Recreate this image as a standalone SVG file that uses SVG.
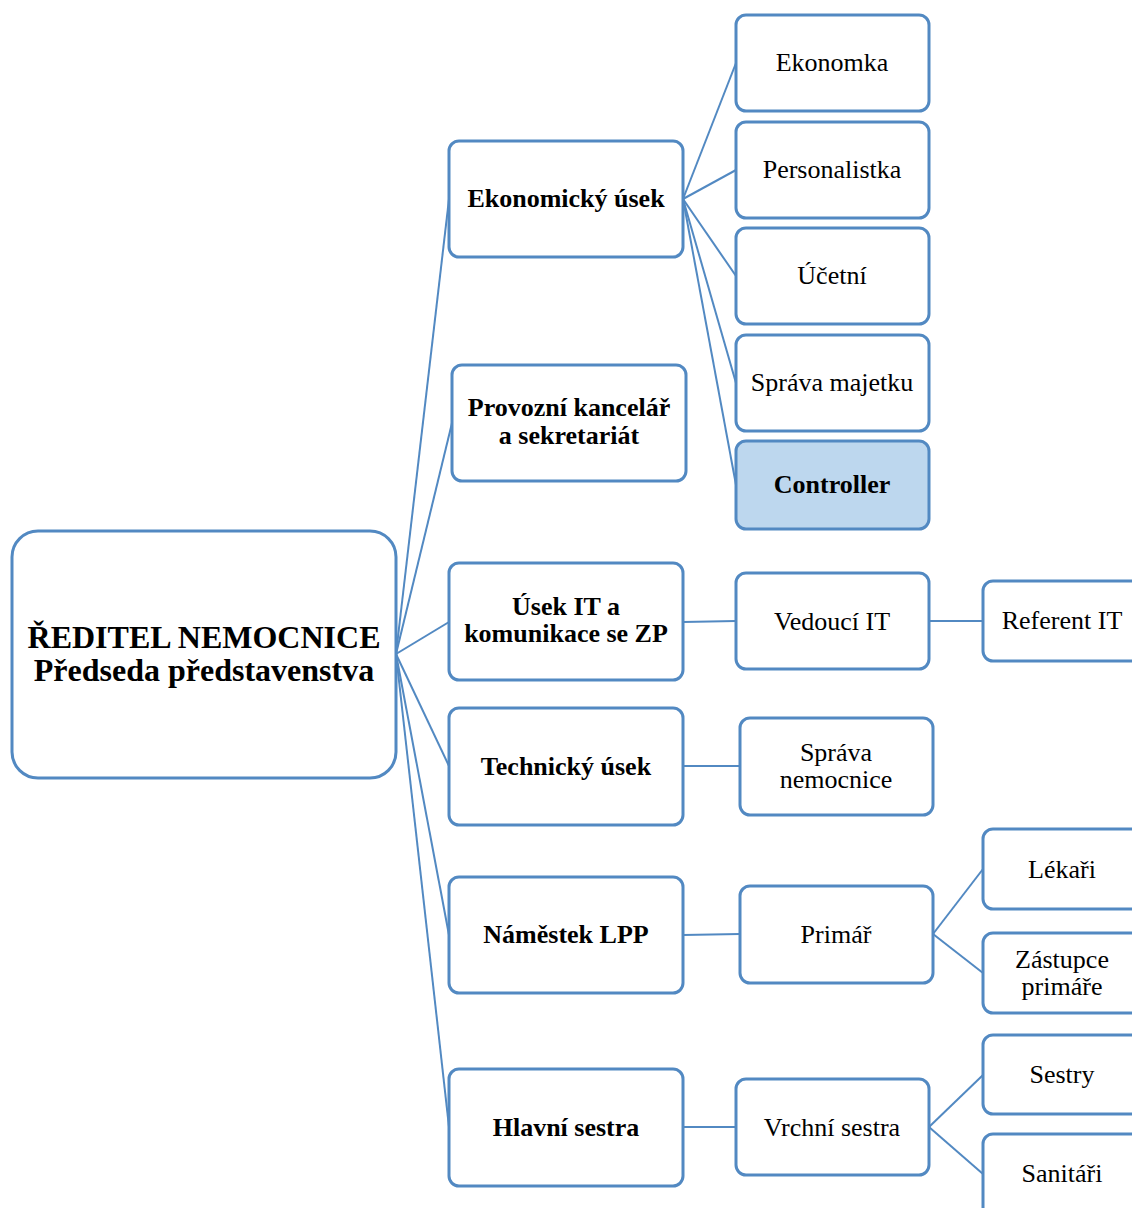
<svg xmlns="http://www.w3.org/2000/svg" width="1132" height="1208" viewBox="0 0 1132 1208">
  <style>
    .box { fill: #ffffff; stroke: #5289c2; stroke-width: 3; }
    .hl { fill: #bdd7ee; }
    .link { stroke: #5289c2; stroke-width: 2; fill: none; }
    text { font-family: "Liberation Serif", "Times New Roman", serif; fill: #000; text-anchor: middle; }
    .b { font-weight: bold; font-size: 26px; }
    .r { font-size: 26px; }
    .root { font-weight: bold; font-size: 32px; }
  </style>
  <rect width="1132" height="1208" fill="#ffffff"/>

  <g id="connectors">
    <!-- director to departments -->
    <line class="link" x1="396" y1="654" x2="449" y2="199"/>
    <line class="link" x1="396" y1="654" x2="452" y2="423"/>
    <line class="link" x1="396" y1="654" x2="449" y2="622"/>
    <line class="link" x1="396" y1="654" x2="449" y2="766"/>
    <line class="link" x1="396" y1="654" x2="449" y2="935"/>
    <line class="link" x1="396" y1="654" x2="449" y2="1127"/>
    <!-- economic department -->
    <line class="link" x1="683" y1="199" x2="736" y2="63"/>
    <line class="link" x1="683" y1="199" x2="736" y2="170"/>
    <line class="link" x1="683" y1="199" x2="736" y2="276"/>
    <line class="link" x1="683" y1="199" x2="736" y2="383"/>
    <line class="link" x1="683" y1="199" x2="736" y2="485"/>
    <!-- IT -->
    <line class="link" x1="683" y1="622" x2="736" y2="621"/>
    <line class="link" x1="929" y1="621" x2="983" y2="621"/>
    <!-- technical -->
    <line class="link" x1="683" y1="766" x2="740" y2="766"/>
    <!-- medical -->
    <line class="link" x1="683" y1="935" x2="740" y2="934"/>
    <line class="link" x1="933" y1="934" x2="983" y2="869"/>
    <line class="link" x1="933" y1="934" x2="983" y2="973"/>
    <!-- nursing -->
    <line class="link" x1="683" y1="1127" x2="736" y2="1127"/>
    <line class="link" x1="929" y1="1127" x2="983" y2="1075"/>
    <line class="link" x1="929" y1="1127" x2="983" y2="1174"/>
  </g>

  <g id="reditel">
    <rect class="box" x="12" y="531" width="384" height="247" rx="26"/>
    <text class="root" x="204" y="648">ŘEDITEL NEMOCNICE</text>
    <text class="root" x="204" y="681">Předseda představenstva</text>
  </g>

  <g id="ekonomicky-usek">
    <rect class="box" x="449" y="141" width="234" height="116" rx="10"/>
    <text class="b" x="566" y="207">Ekonomický úsek</text>
  </g>
  <g id="provozni-kancelar">
    <rect class="box" x="452" y="365" width="234" height="116" rx="10"/>
    <text class="b" x="569" y="416">Provozní kancelář</text>
    <text class="b" x="569" y="444">a sekretariát</text>
  </g>
  <g id="usek-it">
    <rect class="box" x="449" y="563" width="234" height="117" rx="10"/>
    <text class="b" x="566" y="615">Úsek IT a</text>
    <text class="b" x="566" y="642">komunikace se ZP</text>
  </g>
  <g id="technicky-usek">
    <rect class="box" x="449" y="708" width="234" height="117" rx="10"/>
    <text class="b" x="566" y="775">Technický úsek</text>
  </g>
  <g id="namestek-lpp">
    <rect class="box" x="449" y="877" width="234" height="116" rx="10"/>
    <text class="b" x="566" y="943">Náměstek LPP</text>
  </g>
  <g id="hlavni-sestra">
    <rect class="box" x="449" y="1069" width="234" height="117" rx="10"/>
    <text class="b" x="566" y="1136">Hlavní sestra</text>
  </g>

  <g id="ekonomka">
    <rect class="box" x="736" y="15" width="193" height="96" rx="10"/>
    <text class="r" x="832" y="71">Ekonomka</text>
  </g>
  <g id="personalistka">
    <rect class="box" x="736" y="122" width="193" height="96" rx="10"/>
    <text class="r" x="832" y="178">Personalistka</text>
  </g>
  <g id="ucetni">
    <rect class="box" x="736" y="228" width="193" height="96" rx="10"/>
    <text class="r" x="832" y="284">Účetní</text>
  </g>
  <g id="sprava-majetku">
    <rect class="box" x="736" y="335" width="193" height="96" rx="10"/>
    <text class="r" x="832" y="391">Správa majetku</text>
  </g>
  <g id="controller">
    <rect class="box hl" x="736" y="441" width="193" height="88" rx="10"/>
    <text class="b" x="832" y="493">Controller</text>
  </g>
  <g id="vedouci-it">
    <rect class="box" x="736" y="573" width="193" height="96" rx="10"/>
    <text class="r" x="832" y="630">Vedoucí IT</text>
  </g>
  <g id="sprava-nemocnice">
    <rect class="box" x="740" y="718" width="193" height="97" rx="10"/>
    <text class="r" x="836" y="761">Správa</text>
    <text class="r" x="836" y="788">nemocnice</text>
  </g>
  <g id="primar">
    <rect class="box" x="740" y="886" width="193" height="97" rx="10"/>
    <text class="r" x="836" y="943">Primář</text>
  </g>
  <g id="vrchni-sestra">
    <rect class="box" x="736" y="1079" width="193" height="96" rx="10"/>
    <text class="r" x="832" y="1136">Vrchní sestra</text>
  </g>

  <g id="referent-it">
    <rect class="box" x="983" y="581" width="170" height="80" rx="10"/>
    <text class="r" x="1062" y="629">Referent IT</text>
  </g>
  <g id="lekari">
    <rect class="box" x="983" y="829" width="170" height="80" rx="10"/>
    <text class="r" x="1062" y="878">Lékaři</text>
  </g>
  <g id="zastupce-primare">
    <rect class="box" x="983" y="933" width="170" height="80" rx="10"/>
    <text class="r" x="1062" y="968">Zástupce</text>
    <text class="r" x="1062" y="995">primáře</text>
  </g>
  <g id="sestry">
    <rect class="box" x="983" y="1035" width="170" height="79" rx="10"/>
    <text class="r" x="1062" y="1083">Sestry</text>
  </g>
  <g id="sanitari">
    <rect class="box" x="983" y="1134" width="170" height="90" rx="10"/>
    <text class="r" x="1062" y="1182">Sanitáři</text>
  </g>
</svg>
